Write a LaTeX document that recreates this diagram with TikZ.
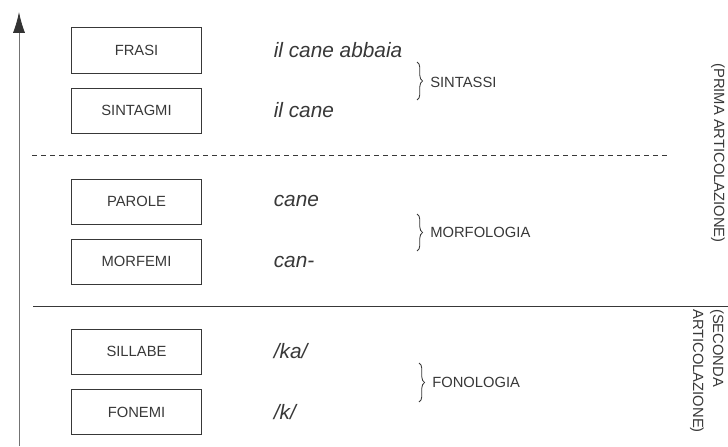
\documentclass[tikz,border=0pt]{standalone}
\usepackage{fontspec}
\setmainfont{Liberation Sans}
\usetikzlibrary{arrows.meta,positioning,decorations.pathreplacing}
\colorlet{ink}{black!78}
\begin{document}
\begin{tikzpicture}[x=0.025cm,y=-0.025cm,
    livello/.style={draw=ink,line width=0.7pt,minimum width=3.225cm,minimum height=1.125cm,
      text=ink,font=\fontsize{10.5}{12}\selectfont},
    esempio/.style={text=ink,font=\fontsize{14.8}{17}\selectfont\itshape,inner sep=0pt},
    ramo/.style={text=ink,font=\fontsize{10.5}{12}\selectfont,inner sep=0pt},
    graffa/.style={draw=ink,line width=0.6pt,decorate,decoration={brace,amplitude=4pt}},
    fianco/.style={text=ink,font=\fontsize{10.5}{14.2}\selectfont,rotate=-90,inner sep=0pt}]
    \useasboundingbox (0,0) rectangle (728,446);
    % asse
    \coordinate (base) at (19,446);
    \coordinate (cima) at (19,12);
    \draw [black!55,line width=0.6pt,-{Latex[length=5.2mm,width=3mm,black!80]}] (base)--(cima);
    % livelli
    \node[livello] (frasi) at (136.5,50.5) {FRASI};
    \node[livello] (sintagmi) at (136.5,110.5) {SINTAGMI};
    \node[livello] (parole) at (136.5,201.5) {PAROLE};
    \node[livello] (morfemi) at (136.5,261.5) {MORFEMI};
    \node[livello] (sillabe) at (136.5,351.5) {SILLABE};
    \node[livello] (fonemi) at (136.5,412) {FONEMI};
    % esempi
    \node[esempio,right=1.8cm of frasi] (ex1) {il cane abbaia};
    \node[esempio,right=1.8cm of sintagmi] (ex2) {il cane};
    \node[esempio,right=1.8cm of parole] (ex3) {cane};
    \node[esempio,right=1.8cm of morfemi] (ex4) {can-};
    \node[esempio,right=1.8cm of sillabe] (ex5) {/ka/};
    \node[esempio,right=1.8cm of fonemi] (ex6) {/k/};
    % separatori
    \coordinate (d1) at (32,155);
    \coordinate (d2) at (668,155);
    \draw [ink,line width=0.5pt,dash pattern=on 0.125cm off 0.1cm] (d1)--(d2);
    \coordinate (s1) at (33,306);
    \coordinate (s2) at (728,306);
    \draw [ink,line width=0.6pt] (s1)--(s2);
    % graffe
    \coordinate (g1a) at (417,62);
    \coordinate (g1b) at (417,100);
    \draw [graffa] (g1a)--(g1b);
    \node[ramo,anchor=west] (sintassi) at (430,82) {SINTASSI};
    \coordinate (g2a) at (417,214);
    \coordinate (g2b) at (417,251);
    \draw [graffa] (g2a)--(g2b);
    \node[ramo,anchor=west] (morfologia) at (430,232) {MORFOLOGIA};
    \coordinate (g3a) at (419,363);
    \coordinate (g3b) at (419,402);
    \draw [graffa] (g3a)--(g3b);
    \node[ramo,anchor=west] (fonologia) at (432,382) {FONOLOGIA};
    % articolazioni
    \node[fianco] (prima) at (718,153) {(PRIMA ARTICOLAZIONE)};
    \node[fianco,align=left] (seconda) at (707,371) {(SECONDA\\ARTICOLAZIONE)};
\end{tikzpicture}
\end{document}
